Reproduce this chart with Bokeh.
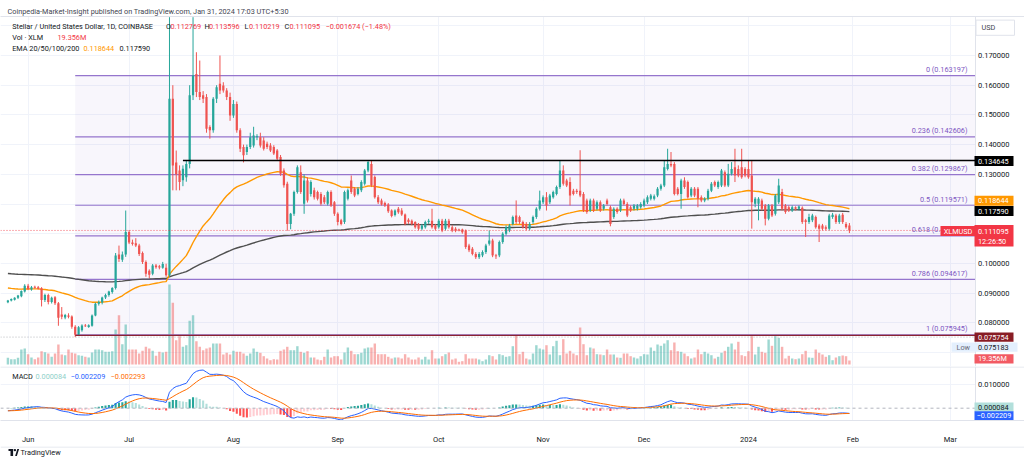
import numpy as np
import pandas as pd
from bokeh.plotting import figure
from bokeh.layouts import column
from bokeh.models import Range1d, FixedTicker, Label, Grid, Span
from bokeh.embed import file_html
from bokeh.resources import INLINE
from bokeh.core.properties import value

# ---------------- data ----------------
dates = pd.date_range("2023-05-26", "2024-01-31", freq="D")

opens = [
    .0869, .0875, .0878, .0884, .0889, .0905,
    .0925, .0912, .0921, .0920, .0916, .0877, .0894, .0870, .0886, .0866, .0828, .0818, .0825, .0821, .0787,
    .0760, .0775, .0791, .0786, .0790, .0825, .0864, .0868, .0885, .0894, .0904, .0917, .1030, .1012, .1030,
    .1106, .1070, .1068, .1060, .1035, .1005, .0975, .0965, .0993, .0990, .0985, .0985, .0960, .1554, .1340,
    .1313, .1280, .1290, .1335, .1566, .1638, .1577, .1566, .1560, .1459, .1448, .1554, .1605, .1599, .1582, .1560,
    .1498, .1537, .1448, .1392, .1375, .1392, .1397, .1425, .1425, .1414, .1403, .1397, .1392, .1380, .1358,
    .1313, .1268, .1133, .1167, .1240, .1307, .1201, .1279, .1234, .1246, .1240, .1234, .1223, .1201, .1240, .1206,
    .1167, .1145, .1139, .1218, .1279, .1251, .1234, .1246, .1268, .1313, .1335, .1291, .1223, .1212, .1203,
    .1198, .1178, .1163, .1184, .1178, .1165, .1147, .1144, .1139, .1133, .1117, .1122, .1139, .1144, .1128,
    .1122, .1144, .1117, .1144, .1122, .1117, .1114, .1114, .1111, .1060, .1049, .1032, .1021, .1027, .1038,
    .1066, .1077, .1027, .1027, .1072, .1100, .1111, .1133, .1161, .1156, .1139, .1133, .1117, .1139, .1156, .1184,
    .1206, .1223, .1206, .1223, .1234, .1257, .1313, .1279, .1274, .1245, .1245, .1245, .1234, .1212, .1178,
    .1212, .1184, .1206, .1184, .1212, .1189, .1156, .1184, .1178, .1212, .1200, .1189, .1184, .1184, .1189,
    .1195, .1206, .1218, .1218, .1229, .1251, .1262, .1318, .1335, .1335, .1251, .1234, .1279, .1274, .1229,
    .1251, .1251, .1223, .1212, .1218, .1245, .1274, .1257, .1262, .1307, .1262, .1302, .1324, .1318, .1324, .1318,
    .1318, .1296, .1201, .1201, .1212, .1195, .1150, .1195, .1167, .1206, .1240, .1195, .1189, .1178, .1189,
    .1184, .1187, .1145, .1139, .1145, .1156, .1128, .1128, .1122, .1117, .1156, .1161, .1139, .1164, .1133, .112769,
]
highs = [
    .0877, .0882, .0886, .0894, .0909, .0930,
    .0931, .0924, .0925, .0924, .0920, .0898, .0898, .0888, .0890, .0870, .0853, .0830, .0832, .0825, .0792,
    .0789, .0795, .0796, .0795, .0828, .0868, .0875, .0888, .0898, .0908, .0920, .1035, .1060, .1040, .1178,
    .1112, .1080, .1085, .1066, .1040, .1010, .0980, .0998, .0998, .0995, .1005, .0999, .1829, .1600, .1380,
    .1330, .1330, .1345, .1600, .1829, .1711, .1683, .1580, .1570, .1465, .1560, .1600, .1700, .1610, .1590, .1575,
    .1550, .1545, .1455, .1400, .1400, .1440, .1460, .1435, .1440, .1425, .1410, .1405, .1398, .1385, .1365,
    .1320, .1275, .1170, .1245, .1330, .1330, .1300, .1290, .1280, .1255, .1245, .1240, .1230, .1245, .1246, .1210,
    .1172, .1150, .1245, .1252, .1296, .1257, .1257, .1280, .1318, .1347, .1347, .1296, .1230, .1218, .1208,
    .1203, .1182, .1182, .1190, .1186, .1168, .1152, .1148, .1142, .1136, .1133, .1144, .1150, .1184, .1133,
    .1150, .1150, .1150, .1150, .1128, .1122, .1117, .1117, .1114, .1066, .1055, .1038, .1038, .1044, .1066,
    .1111, .1083, .1032, .1077, .1105, .1128, .1133, .1161, .1212, .1161, .1144, .1139, .1139, .1161, .1189, .1245,
    .1229, .1240, .1234, .1245, .1262, .1347, .1330, .1285, .1290, .1251, .1251, .1381, .1240, .1218, .1218,
    .1218, .1212, .1212, .1200, .1218, .1195, .1189, .1189, .1218, .1218, .1206, .1195, .1200, .1200, .1206,
    .1218, .1229, .1234, .1232, .1257, .1268, .1347, .1386, .1375, .1341, .1257, .1285, .1290, .1279, .1257,
    .1257, .1257, .1229, .1223, .1251, .1274, .1279, .1279, .1318, .1313, .1335, .1341, .1386, .1330, .1386, .1324,
    .1347, .1347, .1223, .1223, .1218, .1200, .1200, .1200, .1234, .1285, .1251, .1200, .1195, .1195, .1192,
    .1195, .1192, .1150, .1167, .1167, .1161, .1133, .1133, .1128, .1167, .1170, .1167, .1167, .1170, .1139, .113596,
]
lows = [
    .0866, .0872, .0875, .0880, .0886, .0902,
    .0910, .0908, .0915, .0912, .0855, .0870, .0862, .0865, .0860, .0790, .0812, .0812, .0815, .0780, .07518,
    .0757, .0770, .0786, .0783, .0787, .0822, .0858, .0862, .0880, .0888, .0898, .0912, .1005, .1005, .1022,
    .1065, .1060, .1055, .1025, .0998, .0955, .0950, .0960, .0982, .0980, .0982, .0955, .0955, .1246, .1246,
    .1246, .1260, .1275, .1320, .1550, .1560, .1550, .1540, .1440, .1420, .1440, .1540, .1570, .1575, .1550, .1480,
    .1490, .1440, .1375, .1340, .1365, .1385, .1390, .1415, .1390, .1380, .1385, .1375, .1365, .1345, .1295,
    .1255, .1110, .1115, .1160, .1235, .1234, .1167, .1205, .1225, .1215, .1212, .1195, .1200, .1195, .1190, .1160,
    .1128, .1128, .1133, .1212, .1234, .1223, .1229, .1240, .1262, .1307, .1257, .1218, .1200, .1195, .1190,
    .1170, .1155, .1158, .1167, .1160, .1128, .1133, .1128, .1117, .1111, .1111, .1117, .1133, .1117, .1111,
    .1117, .1105, .1111, .1117, .1105, .1105, .1108, .1100, .1049, .1038, .1027, .1015, .1015, .1021, .1032,
    .1060, .1021, .1015, .1021, .1066, .1094, .1105, .1128, .1133, .1133, .1117, .1111, .1111, .1133, .1150, .1178,
    .1200, .1178, .1200, .1218, .1229, .1251, .1262, .1257, .1195, .1229, .1234, .1223, .1173, .1167, .1173,
    .1173, .1178, .1173, .1178, .1195, .1125, .1150, .1167, .1173, .1195, .1156, .1173, .1178, .1178, .1184,
    .1189, .1200, .1212, .1212, .1223, .1245, .1257, .1313, .1324, .1229, .1229, .1184, .1251, .1218, .1223,
    .1223, .1189, .1206, .1206, .1212, .1240, .1257, .1251, .1257, .1257, .1257, .1296, .1274, .1290, .1285, .1290,
    .1285, .1117, .1189, .1145, .1178, .1128, .1145, .1156, .1161, .1200, .1178, .1167, .1173, .1173, .1178,
    .1178, .1133, .1089, .1133, .1139, .1117, .1072, .1111, .1111, .1111, .1150, .1133, .1133, .1133, .1117, .110219,
]
closes = [
    .0875, .0880, .0884, .0892, .0907, .0925,
    .0914, .0920, .0918, .0915, .0877, .0894, .0870, .0884, .0866, .0817, .0820, .0826, .0820, .0787, .0760,
    .0785, .0791, .0788, .0792, .0825, .0864, .0870, .0885, .0894, .0905, .0917, .1027, .1015, .1030, .1106,
    .1070, .1065, .1060, .1032, .1005, .0965, .0962, .0993, .0987, .0986, .0998, .0960, .1554, .1330, .1300,
    .1274, .1319, .1335, .1566, .1633, .1577, .1560, .1554, .1453, .1448, .1554, .1593, .1582, .1582, .1560, .1498,
    .1537, .1448, .1386, .1364, .1392, .1425, .1431, .1428, .1397, .1386, .1392, .1380, .1370, .1352, .1302,
    .1263, .1133, .1167, .1240, .1324, .1240, .1279, .1212, .1274, .1223, .1218, .1201, .1206, .1240, .1195, .1167,
    .1139, .1133, .1240, .1246, .1240, .1229, .1251, .1274, .1313, .1341, .1263, .1223, .1206, .1198, .1195,
    .1176, .1160, .1178, .1172, .1165, .1133, .1139, .1133, .1122, .1117, .1128, .1139, .1144, .1122, .1117,
    .1144, .1111, .1144, .1122, .1111, .1111, .1111, .1105, .1055, .1044, .1032, .1021, .1032, .1038, .1060,
    .1077, .1027, .1024, .1072, .1100, .1122, .1128, .1156, .1139, .1139, .1122, .1117, .1133, .1156, .1184, .1212,
    .1223, .1195, .1229, .1240, .1257, .1313, .1268, .1262, .1229, .1234, .1240, .1229, .1178, .1173, .1212,
    .1178, .1206, .1178, .1195, .1200, .1133, .1184, .1173, .1212, .1200, .1161, .1178, .1195, .1195, .1200,
    .1212, .1223, .1229, .1226, .1251, .1262, .1324, .1335, .1330, .1234, .1234, .1279, .1257, .1223, .1251,
    .1229, .1218, .1212, .1218, .1245, .1268, .1262, .1274, .1313, .1262, .1302, .1318, .1296, .1296, .1290, .1296,
    .1290, .1206, .1218, .1218, .1184, .1150, .1195, .1161, .1229, .1262, .1184, .1173, .1178, .1189, .1184,
    .1192, .1139, .1139, .1156, .1161, .1122, .1117, .1117, .1117, .1161, .1164, .1139, .1161, .1139, .1122, .111095,
]
volumes_m = [
    32.4, 25.7, 25.7, 32.4, 72.6, 77.4,
    49.9, 33.9, 25.7, 33.9, 64.4, 59.5, 53.2, 37.3, 53.2, 96.8, 48.4, 45.0, 72.6, 56.6, 53.2,
    45.0, 42.1, 37.3, 33.9, 58.1, 72.6, 72.6, 69.2, 61.5, 61.5, 64.4, 169.4, 238.6, 98.3, 193.6,
    72.6, 72.6, 72.6, 53.2, 66.3, 85.7, 77.4, 66.3, 42.1, 61.5, 58.1, 61.5, 387.2, 298.6, 117.6,
    137.0, 85.7, 93.4, 211.5, 238.6, 112.8, 85.7, 69.2, 77.4, 82.3, 101.6, 101.6, 101.6, 48.4, 56.6, 48.4,
    66.3, 61.5, 61.5, 53.2, 42.1, 53.2, 77.4, 61.5, 56.6, 40.2, 29.0, 20.8, 25.7, 24.2, 66.3,
    72.6, 85.7, 69.2, 69.2, 88.6, 61.5, 56.6, 64.4, 33.9, 33.9, 24.2, 20.8, 37.3, 72.6, 33.9, 40.2,
    40.2, 24.2, 58.1, 82.3, 66.3, 49.9, 49.9, 56.6, 77.4, 82.3, 82.3, 101.6, 49.9, 49.9, 49.9,
    37.3, 29.0, 33.9, 33.9, 29.0, 49.9, 33.9, 24.2, 24.2, 33.9, 24.2, 37.3, 24.2, 69.2, 29.0,
    29.0, 40.2, 49.9, 58.1, 24.2, 29.0, 13.1, 16.0, 49.9, 29.0, 29.0, 29.0, 24.2, 16.0, 24.2,
    45.0, 40.2, 24.2, 49.9, 45.0, 37.3, 40.2, 88.6, 141.8, 49.9, 61.5, 29.0, 24.2, 53.2, 93.4, 77.4,
    72.6, 93.4, 48.4, 88.6, 114.7, 45.0, 122.5, 53.2, 66.3, 53.2, 45.0, 179.1, 98.3, 45.0, 82.3,
    77.4, 49.9, 48.4, 45.0, 72.6, 48.4, 48.4, 33.9, 32.4, 53.2, 53.2, 40.2, 33.9, 29.0, 40.2,
    49.9, 48.4, 82.3, 66.3, 96.8, 90.5, 101.6, 117.6, 69.2, 106.5, 64.4, 61.5, 53.2, 40.2, 29.0,
    33.9, 72.6, 49.9, 61.5, 53.2, 45.0, 29.0, 37.3, 56.6, 66.3, 85.7, 101.6, 72.6, 109.9, 45.0, 40.2,
    64.4, 137.0, 48.4, 85.7, 61.5, 56.6, 121.0, 90.5, 137.0, 129.2, 85.7, 29.0, 42.1, 29.0, 25.7,
    29.0, 49.9, 66.3, 33.9, 32.4, 72.6, 56.6, 48.4, 37.3, 45.0, 20.8, 33.9, 40.2, 43.6, 40.2, 19.356,
]

# indicator seeds (values of the lines at the left edge)
EMA50_SEED, EMA200_SEED = 0.0919, 0.0967
MACD_FAST_SEED, MACD_SLOW_SEED, MACD_SIGNAL_SEED = 0.0872, 0.0884, -0.0011

fib_ratios = ["0", "0.236", "0.382", "0.5", "0.618", "0.786", "1"]
fib_values = [0.163197, 0.142606, 0.129867, 0.119571, 0.109275, 0.094617, 0.075945]
fib_start = pd.Timestamp("2023-06-15")
resistance_value, resistance_start = 0.134645, pd.Timestamp("2023-07-17")
low_line_value, low_value = 0.075754, 0.075183
last_price = 0.111095

price_ticks = [0.08, 0.09, 0.10, 0.13, 0.14, 0.15, 0.16, 0.17]
price_grid = [0.07, 0.08, 0.09, 0.10, 0.11, 0.12, 0.13, 0.14, 0.15, 0.16, 0.17, 0.18]
macd_ticks = [0.01]
month_starts = pd.date_range("2023-06-01", "2024-03-01", freq="MS")
month_labels = ["Jun", "Jul", "Aug", "Sep", "Oct", "Nov", "Dec", "2024", "Feb", "Mar"]

# ---------------- helpers ----------------
n = min(len(dates), len(opens), len(highs), len(lows), len(closes), len(volumes_m))
dates = dates[:n]
o = np.array(opens[:n]); h = np.array(highs[:n]); l = np.array(lows[:n]); c = np.array(closes[:n])
vol = np.array(volumes_m[:n])

FONT = "Roboto"
UP, DOWN = "#26a69a", "#ef5350"
TXT = "#131722"
RED = "#f23645"
W = 1024
DAY_PX = 3.366
X0 = pd.Timestamp("2023-06-01") - pd.Timedelta(days=27.6 / DAY_PX)
X1 = X0 + pd.Timedelta(days=W / DAY_PX)
DAY_MS = 86400000
SCALE_X = 975  # left edge of the price scale (pixels)


def px_date(px):
    return X0 + pd.Timedelta(days=px / DAY_PX)


def py_price(py):
    return 0.170 - (py - 55) / 2970.0


def py_macd(py):
    return (407.7 - py) / 2370.0


def ema(vals, span, seed):
    k = 2.0 / (span + 1)
    e = seed
    out = []
    for v in vals:
        e = e + k * (v - e)
        out.append(e)
    return np.array(out)


def add_label(fig, x, y, text, color=TXT, size="7.3px", bold=False, align="left", baseline="middle"):
    lab = Label(x=x, y=y, text=text, text_color=color, text_font=FONT, text_font_size=size,
                text_font_style="bold" if bold else "normal", text_align=align,
                text_baseline=baseline)
    fig.add_layout(lab)
    return lab


def badge(fig, yconv, x_l, x_r, yc, half, text, bg, fg=TXT, text_x=None, align="left", line=None):
    fig.quad(left=[px_date(x_l)], right=[px_date(x_r)], bottom=[yconv(yc + half)], top=[yconv(yc - half)],
             fill_color=bg, line_color=line)
    if text:
        fig.text(x=[px_date(text_x if text_x is not None else x_l + 3.5)], y=[yconv(yc)], text=[text],
                 text_color=fg, text_font=value(FONT), text_font_size="7.3px",
                 text_baseline="middle", text_align=align)


colors = [UP if cc >= oo else DOWN for oo, cc in zip(o, c)]
ema50 = ema(c, 50, EMA50_SEED)
ema200 = ema(c, 200, EMA200_SEED)
macd = ema(c, 12, MACD_FAST_SEED) - ema(c, 26, MACD_SLOW_SEED)
signal = ema(macd, 9, MACD_SIGNAL_SEED)
hist = macd - signal
hist_colors = []
prev = hist[0]
for hv in hist:
    if hv >= 0:
        hist_colors.append("#26a69a" if hv >= prev else "#b2dfdb")
    else:
        hist_colors.append("#ff5252" if hv <= prev else "#ffcdd2")
    prev = hv

month_ms = [int(t.value // 10**6) for t in month_starts]
XE = px_date(SCALE_X)

# ---------------- price pane ----------------
p = figure(width=W, height=366, x_axis_type="datetime", x_range=Range1d(X0, X1),
           y_range=Range1d(py_price(366), py_price(0)), x_axis_location=None,
           y_axis_location=None, output_backend="svg", toolbar_location=None, min_border=0)
p.outline_line_color = None
p.grid.visible = False
p.add_layout(Grid(dimension=0, ticker=FixedTicker(ticks=month_ms), grid_line_color="#f0f3fa"))
p.add_layout(Grid(dimension=1, ticker=FixedTicker(ticks=price_grid), grid_line_color="#f0f3fa"))

# fib background
p.quad(left=[fib_start], right=[XE], bottom=[fib_values[-1]], top=[fib_values[0]],
       fill_color="#7e57c2", fill_alpha=0.05, line_color=None)

# volume
VOL_PER_PX = 4.84
p.extra_y_ranges = {"vol": Range1d(-2 * VOL_PER_PX, 364 * VOL_PER_PX)}
p.vbar(x=dates, top=vol, bottom=0, width=0.72 * DAY_MS, fill_color=colors, fill_alpha=0.45,
       line_color=None, y_range_name="vol")

# fib levels
p.segment(x0=[fib_start] * len(fib_values), y0=fib_values, x1=[XE] * len(fib_values),
          y1=fib_values, line_color="#9575cd", line_width=1.2)

# EMAs
p.line(dates, ema200, line_color="#4f4f4f", line_width=1.4)
p.line(dates, ema50, line_color="#ff9800", line_width=1.4)

# candles
p.segment(x0=dates, y0=l, x1=dates, y1=h, line_color=colors, line_width=1)
p.vbar(x=dates, top=np.maximum(o, c), bottom=np.minimum(o, c), width=0.66 * DAY_MS,
       fill_color=colors, line_color=None)

# horizontal drawings
p.segment(x0=[resistance_start], y0=[resistance_value], x1=[XE], y1=[resistance_value],
          line_color="#000000", line_width=1.5)
p.segment(x0=[fib_start], y0=[low_line_value], x1=[XE], y1=[low_line_value],
          line_color="#8b2332", line_width=1.3)
p.segment(x0=[X0], y0=[low_value], x1=[XE], y1=[low_value], line_color="#9598a1",
          line_width=1, line_dash="1 2", line_alpha=0.7)
p.segment(x0=[X0], y0=[last_price], x1=[XE], y1=[last_price], line_color=RED,
          line_width=1, line_dash="1 2", line_alpha=0.8)

# fib labels (glyph text, so that the price badges can cover them)
p.text(x=[px_date(967)] * len(fib_values), y=[v + 1.5 / 2970.0 for v in fib_values],
       text=[f"{r} ({v:.6f})" for r, v in zip(fib_ratios, fib_values)],
       text_color="#7e57c2", text_font=value(FONT), text_font_size="7.3px",
       text_align="right", text_baseline="bottom")

# header band + price-scale strip
p.quad(left=[X0 - pd.Timedelta(days=5)], right=[X1 + pd.Timedelta(days=5)], bottom=[py_price(16)],
       top=[py_price(-5)], fill_color="white", line_color=None)
p.quad(left=[XE], right=[X1 + pd.Timedelta(days=5)], bottom=[py_price(380)], top=[py_price(-5)],
       fill_color="white", line_color=None)
p.segment(x0=[X0 - pd.Timedelta(days=5)], y0=[py_price(16)], x1=[X1 + pd.Timedelta(days=5)], y1=[py_price(16)],
          line_color="#e0e3eb", line_width=1)
p.segment(x0=[XE], y0=[py_price(16)], x1=[XE], y1=[py_price(380)], line_color="#e0e3eb", line_width=1)

# price scale tick labels (placed through the y scale)
p.text(x=[px_date(977.5)] * len(price_ticks), y=price_ticks, text=[f"{t:.6f}" for t in price_ticks],
       text_color=TXT, text_font=value(FONT), text_font_size="7.5px", text_baseline="middle")

# header + legend
add_label(p, px_date(7), py_price(10.5),
          "Coinpedia-Market-Insight published on TradingView.com, Jan 31, 2024 17:03 UTC+5:30",
          color="#434651")
add_label(p, px_date(11.7), py_price(26), "Stellar / United States Dollar, 1D, COINBASE")
for lx, t, col in [(165.5, "O", TXT), (170, "0.112769", RED), (204, "H", TXT), (208.5, "0.113596", RED),
                   (244, "L", TXT), (248.5, "0.110219", RED), (284, "C", TXT), (289, "0.111095", RED),
                   (325, "\u22120.001674 (\u22121.48%)", RED)]:
    add_label(p, px_date(lx), py_price(26), t, color=col)
add_label(p, px_date(11.7), py_price(37), "Vol \u00b7 XLM")
add_label(p, px_date(57), py_price(37), "19.356M", color=RED)
add_label(p, px_date(11.7), py_price(48), "EMA 20/50/100/200")
add_label(p, px_date(83), py_price(48), "0.118644", color="#ff9800")
add_label(p, px_date(119), py_price(48), "0.117590")

# price-scale badges
badge(p, py_price, 975.5, 1014, 27.2, 7.6, "USD", "white", fg="#434651", text_x=981, line="#e0e3eb")
badge(p, py_price, 974, 1013, 160.5, 5, "0.134645", "#000000", fg="white", text_x=977.5)
badge(p, py_price, 974, 1013, 200.3, 5, "0.118644", "#ff9800", fg="white", text_x=977.5)
badge(p, py_price, 974, 1013, 210.5, 5, "0.117590", "#000000", fg="white", text_x=977.5)
badge(p, py_price, 940, 975, 230.5, 5, "XLMUSD", RED, fg="white", text_x=957.5, align="center")
badge(p, py_price, 974, 1013, 235.3, 10.7, "", RED)
p.text(x=[px_date(977.5)] * 2, y=[py_price(230.5), py_price(241)], text=["0.111095", "12:26:50"],
       text_color="white", text_font=value(FONT), text_font_size="7.3px", text_baseline="middle")
badge(p, py_price, 974, 1013, 336.7, 4.6, "0.075754", "#881c24", fg="white", text_x=977.5)
badge(p, py_price, 951, 1017, 346.7, 4.6, "", "#e3effd")
p.text(x=[px_date(956), px_date(977.5)], y=[py_price(346.7)] * 2, text=["Low", "0.075183"],
       text_color=["#6a6d78", TXT], text_font=value(FONT), text_font_size="7.3px", text_baseline="middle")
badge(p, py_price, 974, 1013, 358.3, 4.6, "19.356M", "#f25a63", fg="white", text_x=977.5)

# ---------------- MACD pane ----------------
m = figure(width=W, height=80, x_axis_type="datetime", x_range=p.x_range,
           y_range=Range1d(py_macd(420), py_macd(366)), y_axis_location=None,
           output_backend="svg", toolbar_location=None, min_border_left=0, min_border_right=0,
           min_border_top=0, min_border_bottom=26)
m.outline_line_color = None
m.grid.visible = False
m.add_layout(Grid(dimension=0, ticker=FixedTicker(ticks=month_ms), grid_line_color="#f0f3fa"))
m.add_layout(Grid(dimension=1, ticker=FixedTicker(ticks=macd_ticks), grid_line_color="#f0f3fa"))

mx = m.xaxis[0]
mx.ticker = FixedTicker(ticks=month_ms)
mx.major_label_overrides = {ms: lab for ms, lab in zip(month_ms, month_labels)}
mx.major_tick_line_color = None
mx.minor_tick_line_color = None
mx.axis_line_color = "#e0e3eb"
mx.major_label_text_font = FONT
mx.major_label_text_font_size = "7.5px"
mx.major_label_text_color = TXT
mx.major_label_standoff = 8

m.vbar(x=dates, top=hist, bottom=0, width=0.62 * DAY_MS, fill_color=hist_colors, line_color=None)
m.line(dates, macd, line_color="#2962ff", line_width=1)
m.line(dates, signal, line_color="#ff6d00", line_width=1)

m.quad(left=[XE], right=[X1 + pd.Timedelta(days=5)], bottom=[py_macd(430)], top=[py_macd(360)],
       fill_color="white", line_color=None)
m.segment(x0=[X0 - pd.Timedelta(days=5)], y0=[py_macd(366.5)], x1=[X1 + pd.Timedelta(days=5)], y1=[py_macd(366.5)],
          line_color="#e0e3eb", line_width=1)
m.segment(x0=[XE], y0=[py_macd(366)], x1=[XE], y1=[py_macd(430)], line_color="#e0e3eb", line_width=1)
m.text(x=[px_date(977.5)] * len(macd_ticks), y=macd_ticks, text=[f"{t:.6f}" for t in macd_ticks],
       text_color=TXT, text_font=value(FONT), text_font_size="7.5px", text_baseline="middle")
m.segment(x0=[X0], y0=[0], x1=[XE], y1=[0], line_color="#b2b5be", line_dash="3 3", line_width=1)

add_label(m, px_date(11.7), py_macd(376), "MACD")
add_label(m, px_date(35), py_macd(376), "0.000084", color="#8fd0c9")
add_label(m, px_date(70), py_macd(376), "\u22120.002209", color="#2962ff")
add_label(m, px_date(110), py_macd(376), "\u22120.002293", color="#ff6d00")
badge(m, py_macd, 974, 1013, 406.5, 4.6, "0.000084", "#b2dfdb", fg=TXT, text_x=977.5)
badge(m, py_macd, 974, 1013, 415.3, 4.6, "\u22120.002209", "#2962ff", fg="white", text_x=976)

# ---------------- footer (logo) ----------------
f = figure(width=W, height=18, x_range=Range1d(0, W), y_range=Range1d(18, 0),
           x_axis_location=None, y_axis_location=None, output_backend="svg",
           toolbar_location=None, min_border=0)
f.outline_line_color = None
f.grid.visible = False
f.segment(x0=[0], y0=[0.5], x1=[W], y1=[0.5], line_color="#e0e3eb", line_width=1)
f.quad(left=[8, 10], right=[12.6, 12.6], top=[2.5, 2.5], bottom=[4.6, 9.5], fill_color="#131722", line_color=None)
f.scatter(x=[14.4], y=[3.6], size=2.4, fill_color="#131722", line_color=None)
f.patch(x=[14.6, 16.8, 18.6, 16.4], y=[9.5, 2.5, 2.5, 9.5], fill_color="#131722", line_color=None)
add_label(f, 20, 6.3, "TradingView", color=TXT, size="7.3px")

layout = column(p, m, f, spacing=0)
open("out.html", "w").write(file_html(layout, INLINE))
